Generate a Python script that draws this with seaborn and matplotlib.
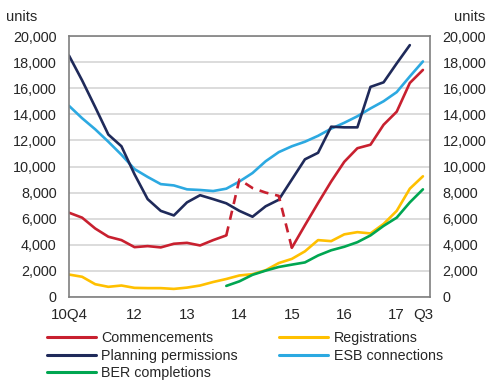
import numpy as np
import pandas as pd
import matplotlib
matplotlib.use("Agg")
import matplotlib.pyplot as plt
from matplotlib.lines import Line2D
from matplotlib.ticker import FuncFormatter
import seaborn as sns

# Quarterly housing supply indicators, 2010Q4 - 2017Q3 (units)
quarters = [f"{y}Q{q}" for y in range(2010, 2018) for q in range(1, 5)][3:-1]

commencements = [6460, 6080, 5250, 4620, 4360, 3820, 3900, 3800, 4080, 4150,
                 3950, 4360, 4720, 9000, 8350, 8000, 7750, 3770, 5500, 7200,
                 8850, 10360, 11400, 11670, 13200, 14200, 16400, 17400]
planning_permissions = [18500, 16600, 14550, 12450, 11550, 9400, 7500, 6600, 6250, 7250,
                        7800, 7500, 7180, 6600, 6150, 6950, 7450, 9000, 10550, 11050,
                        13050, 13000, 13000, 16100, 16450, 17900, 19300, np.nan]
esb_connections = [14650, 13700, 12850, 11900, 10900, 9800, 9200, 8650, 8550, 8250,
                   8200, 8120, 8300, 8850, 9500, 10400, 11100, 11550, 11900, 12350,
                   12900, 13350, 13850, 14450, 15000, 15700, 16900, 18050]
registrations = [1720, 1550, 980, 780, 880, 700, 680, 680, 620, 720,
                 880, 1150, 1380, 1650, 1750, 2050, 2600, 2920, 3500, 4360,
                 4280, 4800, 4970, 4870, 5600, 6600, 8300, 9250]
ber_completions = [np.nan] * 12 + [850, 1200, 1700, 2020, 2300, 2480, 2650, 3180,
                                   3580, 3850, 4200, 4720, 5450, 6080, 7250, 8250]

tick_positions = [0, 5, 9, 13, 17, 21, 25, 27]
tick_labels = ["10Q4", "12", "13", "14", "15", "16", "17", "Q3"]

# Commencements are dashed between 2013Q4 and 2015Q1 (series break)
break_start, break_end = 12, 17

colors = {
    "Commencements": "#C8202F",
    "Registrations": "#FFC000",
    "Planning permissions": "#1F2A5A",
    "ESB connections": "#2CA9E1",
    "BER completions": "#00A651",
}

sns.set_theme(style="white")
plt.rcParams["font.family"] = ["Liberation Sans", "DejaVu Sans"]
text_color = "#262626"

df = pd.DataFrame({
    "pos": np.arange(len(quarters)),
    "quarter": quarters,
    "Commencements": commencements,
    "Planning permissions": planning_permissions,
    "ESB connections": esb_connections,
    "Registrations": registrations,
    "BER completions": ber_completions,
})

fig = plt.figure(figsize=(4.88, 3.8), dpi=100)
ax = fig.add_axes([69 / 488, 1 - 297 / 380, (430 - 69) / 488, (297 - 36) / 380])

lw = 1.9
for name in ["Registrations", "BER completions", "ESB connections", "Planning permissions"]:
    sub = df[["pos", name]].dropna()
    sns.lineplot(data=sub, x="pos", y=name, ax=ax, color=colors[name], lw=lw)

before = df[df["pos"] <= break_start]
during = df[(df["pos"] >= break_start) & (df["pos"] <= break_end)]
after = df[df["pos"] >= break_end]
red = colors["Commencements"]
sns.lineplot(data=before, x="pos", y="Commencements", ax=ax, color=red, lw=lw)
sns.lineplot(data=during, x="pos", y="Commencements", ax=ax, color=red, lw=lw,
             dashes=False, linestyle=(0, (3.5, 2.6)))
sns.lineplot(data=after, x="pos", y="Commencements", ax=ax, color=red, lw=lw)

ax.set_xlim(0, 27.54)
ax.set_ylim(0, 20000)
ax.set_yticks(np.arange(0, 20001, 2000))
ax.yaxis.set_major_formatter(FuncFormatter(lambda v, _: f"{int(v):,}"))
ax.set_xticks(tick_positions)
ax.set_xticklabels(tick_labels)
ax.set_xlabel("")
ax.set_ylabel("")

ax.grid(axis="y", color="#D9D9D9", lw=1.3)
ax.set_axisbelow(True)
for side in ["left", "right", "top", "bottom"]:
    ax.spines[side].set_visible(True)
    ax.spines[side].set_color("#7F7F7F")
    ax.spines[side].set_linewidth(1.2)

ax.tick_params(axis="y", length=0, pad=9, labelsize=10.4, colors=text_color,
               labelleft=True, labelright=True)
ax.tick_params(axis="x", length=0, pad=8, labelsize=10.8, colors=text_color)

fig.text(22 / 488, 1 - 17 / 380, "units", ha="center", va="center",
         fontsize=10.5, color=text_color)
fig.text(470 / 488, 1 - 17 / 380, "units", ha="center", va="center",
         fontsize=10.5, color=text_color)

order = ["Commencements", "Planning permissions", "BER completions",
         "Registrations", "ESB connections"]
handles = [Line2D([0], [0], color=colors[n], lw=2.2) for n in order]
fig.legend(handles, order, loc="upper left", bbox_to_anchor=(47 / 488, 1 - 331 / 380),
           ncol=2, frameon=False, fontsize=10.3, handlelength=3.4, handletextpad=0.4,
           columnspacing=2.9, labelspacing=0.25, borderpad=0, borderaxespad=0,
           labelcolor=text_color)

fig.savefig("out.png", dpi=100)
